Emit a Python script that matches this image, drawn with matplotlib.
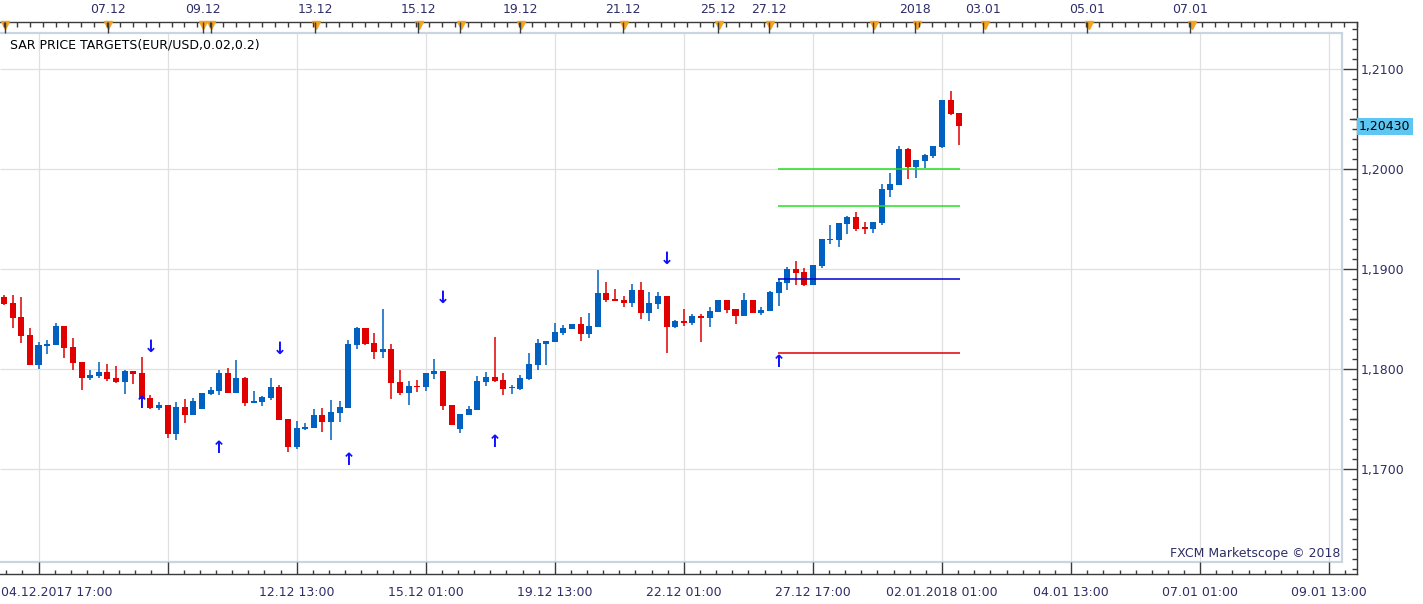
import matplotlib
matplotlib.use('Agg')
import matplotlib.pyplot as plt
from matplotlib.patches import Rectangle
from matplotlib.transforms import blended_transform_factory
from matplotlib.ticker import FuncFormatter

# 4h EUR/USD candles
opens = [1.18720, 1.18663, 1.18523, 1.18343, 1.18043, 1.18237, 1.18243, 1.18433, 1.18223, 1.18073,
         1.17917, 1.17933, 1.17973, 1.17913, 1.17873, 1.17983, 1.17963, 1.17713, 1.17613, 1.17643,
         1.17353, 1.17623, 1.17543, 1.17603, 1.17753, 1.17783, 1.17963, 1.17763, 1.17913, 1.17663,
         1.17673, 1.17713, 1.17823, 1.17503, 1.17223, 1.17403, 1.17413, 1.17543, 1.17473, 1.17563,
         1.17613, 1.18243, 1.18413, 1.18263, 1.18177, 1.18203, 1.17873, 1.17767, 1.17833, 1.17827,
         1.17953, 1.17983, 1.17643, 1.17403, 1.17543, 1.17593, 1.17873, 1.17923, 1.17893, 1.17813,
         1.17803, 1.17903, 1.18043, 1.18257, 1.18273, 1.18363, 1.18403, 1.18453, 1.18353, 1.18423,
         1.18763, 1.18703, 1.18693, 1.18663, 1.18793, 1.18563, 1.18653, 1.18733, 1.18423, 1.18483,
         1.18463, 1.18533, 1.18517, 1.18577, 1.18693, 1.18603, 1.18537, 1.18693, 1.18567, 1.18587,
         1.18763, 1.18863, 1.19003, 1.18973, 1.18843, 1.19037, 1.19293, 1.19293, 1.19453, 1.19523,
         1.19417, 1.19403, 1.19463, 1.19793, 1.19843, 1.20203, 1.20023, 1.20083, 1.20133, 1.20223,
         1.20693, 1.20563]
highs = [1.18743, 1.18743, 1.18723, 1.18413, 1.18273, 1.18293, 1.18463, 1.18433, 1.18313, 1.18073,
         1.17993, 1.18073, 1.18053, 1.18033, 1.17993, 1.17983, 1.18123, 1.17743, 1.17673, 1.17643,
         1.17673, 1.17703, 1.17713, 1.17763, 1.17823, 1.17993, 1.18013, 1.18093, 1.17923, 1.17783,
         1.17733, 1.17913, 1.17843, 1.17503, 1.17483, 1.17463, 1.17603, 1.17613, 1.17693, 1.17683,
         1.18293, 1.18423, 1.18413, 1.18363, 1.18603, 1.18253, 1.17993, 1.17883, 1.17893, 1.17963,
         1.18103, 1.17983, 1.17643, 1.17553, 1.17633, 1.17933, 1.17973, 1.18323, 1.17963, 1.17843,
         1.17943, 1.18163, 1.18303, 1.18283, 1.18463, 1.18443, 1.18453, 1.18523, 1.18563, 1.18990,
         1.18873, 1.18803, 1.18733, 1.18853, 1.18873, 1.18773, 1.18773, 1.18733, 1.18493, 1.18603,
         1.18553, 1.18553, 1.18623, 1.18693, 1.18693, 1.18603, 1.18763, 1.18693, 1.18623, 1.18783,
         1.18903, 1.19023, 1.19083, 1.19013, 1.19043, 1.19303, 1.19443, 1.19463, 1.19533, 1.19573,
         1.19473, 1.19473, 1.19853, 1.19963, 1.20233, 1.20213, 1.20093, 1.20153, 1.20233, 1.20693,
         1.20783, 1.20563]
lows = [1.18640, 1.18417, 1.18267, 1.18043, 1.18003, 1.18153, 1.18243, 1.18113, 1.17993, 1.17793,
        1.17890, 1.17913, 1.17887, 1.17863, 1.17753, 1.17853, 1.17690, 1.17603, 1.17593, 1.17313,
        1.17293, 1.17463, 1.17543, 1.17603, 1.17743, 1.17743, 1.17763, 1.17763, 1.17633, 1.17663,
        1.17633, 1.17693, 1.17493, 1.17173, 1.17203, 1.17393, 1.17413, 1.17373, 1.17293, 1.17473,
        1.17613, 1.18203, 1.18247, 1.18107, 1.18117, 1.17707, 1.17747, 1.17647, 1.17777, 1.17787,
        1.17907, 1.17597, 1.17443, 1.17363, 1.17543, 1.17593, 1.17833, 1.17873, 1.17743, 1.17753,
        1.17793, 1.17893, 1.17993, 1.18043, 1.18273, 1.18343, 1.18403, 1.18283, 1.18313, 1.18423,
        1.18673, 1.18683, 1.18623, 1.18623, 1.18503, 1.18483, 1.18603, 1.18163, 1.18413, 1.18433,
        1.18443, 1.18277, 1.18427, 1.18577, 1.18567, 1.18457, 1.18537, 1.18567, 1.18547, 1.18587,
        1.18637, 1.18793, 1.18843, 1.18833, 1.18843, 1.19017, 1.19253, 1.19227, 1.19353, 1.19383,
        1.19353, 1.19363, 1.19443, 1.19723, 1.19843, 1.19903, 1.19913, 1.20013, 1.20113, 1.20213,
        1.20543, 1.20243]
closes = [1.18653, 1.18517, 1.18337, 1.18043, 1.18243, 1.18257, 1.18433, 1.18217, 1.18067, 1.17917,
          1.17943, 1.17973, 1.17907, 1.17873, 1.17983, 1.17953, 1.17703, 1.17613, 1.17643, 1.17353,
          1.17623, 1.17543, 1.17683, 1.17763, 1.17793, 1.17963, 1.17763, 1.17913, 1.17663, 1.17683,
          1.17723, 1.17823, 1.17493, 1.17223, 1.17413, 1.17423, 1.17543, 1.17473, 1.17573, 1.17623,
          1.18253, 1.18413, 1.18257, 1.18177, 1.18203, 1.17867, 1.17767, 1.17833, 1.17827, 1.17963,
          1.17983, 1.17637, 1.17443, 1.17553, 1.17603, 1.17883, 1.17923, 1.17883, 1.17803, 1.17817,
          1.17913, 1.18053, 1.18263, 1.18283, 1.18373, 1.18413, 1.18453, 1.18353, 1.18433, 1.18763,
          1.18693, 1.18683, 1.18663, 1.18793, 1.18563, 1.18663, 1.18733, 1.18423, 1.18483, 1.18463,
          1.18533, 1.18517, 1.18583, 1.18693, 1.18597, 1.18537, 1.18693, 1.18567, 1.18593, 1.18773,
          1.18873, 1.19003, 1.18963, 1.18843, 1.19043, 1.19303, 1.19303, 1.19463, 1.19523, 1.19403,
          1.19407, 1.19473, 1.19803, 1.19853, 1.20203, 1.20023, 1.20093, 1.20143, 1.20233, 1.20693,
          1.20553, 1.20430]
last_price = 1.20430

# SAR signal arrows (bar index, price)
sar_up_idx = [16, 25, 40, 57, 90]
sar_up_px = [1.17666, 1.17213, 1.17093, 1.17276, 1.18076]
sar_dn_idx = [17, 32, 51, 77]
sar_dn_px = [1.18226, 1.18200, 1.18710, 1.19100]

# price target lines
target_levels = [1.2000, 1.1963, 1.1890, 1.1816]
target_colors = ['#22e022', '#22e022', '#0000cc', '#e00000']
target_start = 90
target_end = 111

# axis labels
grid_idx = [4, 19, 34, 49, 64, 79, 94, 109, 124, 139, 154]
bottom_labels = ['', '', '12.12 13:00', '15.12 01:00', '19.12 13:00', '22.12 01:00',
                 '27.12 17:00', '02.01.2018 01:00', '04.01 13:00', '07.01 01:00', '09.01 13:00']
top_marks = [0.14, 12.1, 23.15, 24.05, 36.2, 48.2, 53.1, 60.1, 72.0, 83.1, 89.0, 101.1, 106.1, 114.0, 126.1, 138.1]
top_labels = ['', '07.12', '09.12', '', '13.12', '15.12', '', '19.12', '21.12', '25.12', '27.12', '',
              '2018', '03.01', '05.01', '07.01']
price_ticks = [1.17, 1.18, 1.19, 1.20, 1.21]

BLUE = '#0061c1'
RED = '#e00000'
NAVY = '#2e2e68'
DARK = '#3a3a3a'
STEP = 8.605


def ix(px):
    return 4 + (px - 38.5) / STEP


def pr(py):
    return 1.19 + (269.3 - py) / 10000


fig = plt.figure(figsize=(14.23, 6.04), dpi=100)
ax = fig.add_axes([0, 30 / 604, 1357 / 1423, 552 / 604])
ax.set_xlim(ix(0), ix(1357))
ax.set_ylim(pr(574), pr(22))

# grid + inner frame
ax.vlines(grid_idx, pr(562), pr(33), color='#e0e0e0', lw=0.9, zorder=0)
ax.hlines(price_ticks, ix(0), ix(1342), color='#e0e0e0', lw=0.9, zorder=0)
ax.add_patch(Rectangle((ix(-1), pr(562)), ix(1342) - ix(-1), pr(33) - pr(562),
                       fill=False, ec='#c9d5e1', lw=1.6, zorder=1))

# candles
for i in range(len(opens)):
    o, h, l, c = opens[i], highs[i], lows[i], closes[i]
    col = BLUE if c >= o else RED
    ax.vlines(i, l, h, color=col, lw=1.1, zorder=3)
    lo = min(o, c)
    hgt = abs(c - o)
    if hgt < 0.00012:
        lo = (o + c) / 2 - 0.00006
        hgt = 0.00012
    ax.bar(i, hgt, bottom=lo, width=0.7, color=col, lw=0, zorder=3)

ax.hlines(target_levels, target_start - 0.1, target_end + 0.1, colors=target_colors, lw=1.1, zorder=4)

for i, p in zip(sar_up_idx, sar_up_px):
    ax.text(i, p, '\u2191', color='#1010ff', fontsize=12, fontweight='bold',
            ha='center', va='center', zorder=5)
for i, p in zip(sar_dn_idx, sar_dn_px):
    ax.text(i, p, '\u2193', color='#1010ff', fontsize=12, fontweight='bold',
            ha='center', va='center', zorder=5)

# spines
ax.spines['left'].set_visible(False)
for s in ['top', 'right', 'bottom']:
    ax.spines[s].set_color(DARK)
    ax.spines[s].set_linewidth(1)

# bottom axis
ax.set_xticks(grid_idx, bottom_labels)
ax.set_xticks([grid_idx[0] + k * 15 / 8 for k in range(-2, 82)], minor=True)
ax.tick_params(axis='x', which='major', direction='in', length=8.6, width=1, color=DARK,
               labelsize=9, labelcolor=NAVY, pad=9, top=False)
ax.tick_params(axis='x', which='minor', direction='in', length=3, width=1, color=DARK, top=False)
fig.text(1 / 1423, 1 - 592 / 604, '04.12.2017 17:00', fontsize=9, color=NAVY, ha='left', va='center')

# right axis
ax.yaxis.tick_right()
ax.set_yticks(price_ticks)
ax.yaxis.set_major_formatter(FuncFormatter(lambda v, p: f'{v:.4f}'.replace('.', ',')))
ax.set_yticks([1.160 + k * 0.001 for k in range(55)], minor=True)
ax.tick_params(axis='y', which='major', direction='in', length=10, width=1, color=DARK,
               labelsize=9, labelcolor=NAVY, pad=3, left=False)
ax.tick_params(axis='y', which='minor', direction='in', length=3.6, width=1, color=DARK, left=False)
tr = blended_transform_factory(ax.transAxes, ax.transData)
for v in [1.165, 1.175, 1.185, 1.195, 1.205]:
    ax.plot([1 - 7 / 1357, 1], [v, v], transform=tr, color=DARK, lw=1, clip_on=False)
ax.text(1.0015, last_price, '1,20430', transform=tr, fontsize=9, color='black', ha='left', va='center',
        bbox=dict(boxstyle='square,pad=0.17', fc='#5ec6f2', ec='none'), zorder=6)

# top axis
ax2 = ax.twiny()
ax2.set_xlim(ax.get_xlim())
for s in ax2.spines.values():
    s.set_visible(False)
ax2.set_xticks(top_marks, top_labels)
ax2.set_xticks([k * 1.5 for k in range(106)], minor=True)
ax2.tick_params(axis='x', which='major', direction='in', length=8, width=1, color=DARK,
                labelsize=9, labelcolor=NAVY, pad=4, bottom=False)
ax2.tick_params(axis='x', which='minor', direction='in', length=3.6, width=1, color=DARK, bottom=False)
ax.plot(top_marks, [pr(25.5)] * len(top_marks), ls='none', marker='v', ms=5.5,
        color='#f6a21e', clip_on=False, zorder=6)

fig.text(10 / 1423, 1 - 44.5 / 604, 'SAR PRICE TARGETS(EUR/USD,0.02,0.2)', fontsize=9,
         color='black', ha='left', va='center')
fig.text(1340 / 1423, 1 - 553 / 604, 'FXCM Marketscope \u00a9 2018', fontsize=9,
         color=NAVY, ha='right', va='center')

fig.savefig('out.png', dpi=100)
